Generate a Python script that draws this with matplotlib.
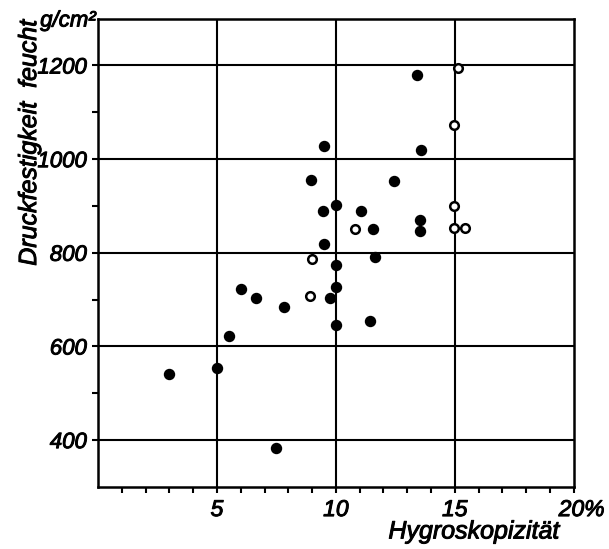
import matplotlib
matplotlib.use("Agg")
import matplotlib.pyplot as plt
import matplotlib.patheffects as pe
from matplotlib.transforms import ScaledTranslation

# filled circles
filled_x = [8.95, 12.45, 10.0, 9.45, 11.05, 13.55, 11.55, 13.55, 9.5, 11.65, 10.0, 10.0,
            6.0, 6.65, 9.75, 7.8, 11.45, 10.0, 5.5, 5.0, 3.0, 7.5, 13.4, 9.5, 13.6]
filled_y = [955, 953, 903, 890, 890, 871, 851, 847, 818, 790, 774, 727,
            722, 703, 703, 684, 654, 645, 623, 553, 542, 383, 1179, 1028, 1019]
# open circles
open_x = [14.95, 10.8, 14.95, 15.45, 9.0, 8.9, 15.15, 14.95]
open_y = [900, 851, 854, 854, 786, 708, 1194, 1073]

x_ticks = [5, 10, 15, 20]
x_ticklabels = ["5", "10", "15", "20%"]
y_ticks = [400, 600, 800, 1000, 1200]
y_ticklabels = ["400", "600", "800", "1000", "1200"]

plt.rcParams['font.family'] = ['Liberation Sans', 'DejaVu Sans']
heavy = [pe.withStroke(linewidth=0.7, foreground='black')]

fig = plt.figure(figsize=(6.09, 5.49), dpi=100)
ax = fig.add_axes([0.161, 0.113, 0.942 - 0.161, 0.966 - 0.113])
ax.set_xlim(0, 20)
ax.set_ylim(300, 1300)

for v in x_ticks[:-1]:
    ax.axvline(v, color='black', lw=1.5, zorder=1)
for v in y_ticks:
    ax.axhline(v, color='black', lw=1.5, zorder=1)

ax.plot(filled_x, filled_y, 'o', color='black', markersize=7.2, zorder=3)
ax.plot(open_x, open_y, 'o', markerfacecolor='white', markeredgecolor='black',
        markersize=6.2, markeredgewidth=1.8, zorder=3)

for s in ax.spines.values():
    s.set_linewidth(1.8)

ax.set_xticks(x_ticks)
ax.set_xticklabels(x_ticklabels, fontsize=16.5, style='italic')
ax.set_xticks(range(1, 20), minor=True)
ax.set_yticks(y_ticks)
ax.set_yticklabels(y_ticklabels, fontsize=16, style='italic')
ax.set_yticks([500, 700, 900, 1100], minor=True)
ax.tick_params(which='major', length=4, width=1.5, direction='out', pad=4)
ax.tick_params(which='minor', length=4, width=1.5, direction='out')

for lab in ax.get_xticklabels() + ax.get_yticklabels():
    lab.set_path_effects(heavy)

# "20%": keep the number centred on its tick, with the % sign to the right
last = ax.get_xticklabels()[-1]
last.set_ha('left')
last.set_transform(last.get_transform() + ScaledTranslation(-15 / 100, 0, fig.dpi_scale_trans))

ax.text(-0.005, 0.995, "g/cm²", transform=ax.transAxes, ha='right', va='center',
        fontsize=16, style='italic', path_effects=heavy)
ax.text(-0.145, 0.735, "Druckfestigkeit  feucht", transform=ax.transAxes, rotation=90,
        ha='center', va='center', fontsize=18, style='italic', path_effects=heavy)
ax.text(0.79, -0.095, "Hygroskopizität", transform=ax.transAxes, ha='center', va='center',
        fontsize=18, style='italic', path_effects=heavy)

fig.savefig("out.png", dpi=100)
